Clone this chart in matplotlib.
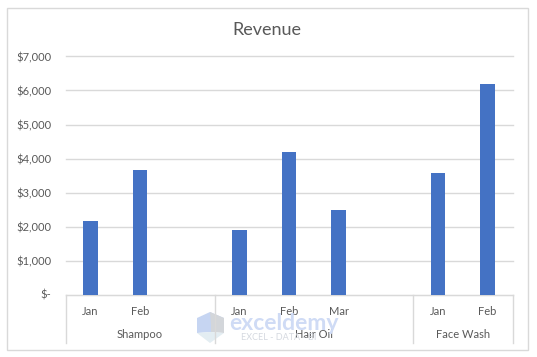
#!/usr/bin/env python3
"""Revenue by product and month, column chart with two-level category axis."""

import matplotlib
matplotlib.use("Agg")
import matplotlib.pyplot as plt
from matplotlib.patches import Polygon, Rectangle

months = ["Jan", "Feb", "", "Jan", "Feb", "Mar", "", "Jan", "Feb"]
revenue = [2150, 3650, 0, 1900, 4200, 2480, 0, 3570, 6200]
products = ["Shampoo", "Hair Oil", "Face Wash"]
product_spans = [(-0.5, 2.5), (2.5, 6.5), (6.5, 8.5)]
y_ticks = [0, 1000, 2000, 3000, 4000, 5000, 6000, 7000]

COLOR_BAR = "#4472C4"
COLOR_GRID = "#D9D9D9"
COLOR_TEXT = "#595959"

plt.rcParams["font.family"] = ["Lato", "DejaVu Sans"]

W, H = 537, 357
AX_H = 238.0
fig = plt.figure(figsize=(W / 100, H / 100), dpi=100)
ax = fig.add_axes([65.5 / W, 1 - 294.5 / H, 447 / W, AX_H / H])

fig.add_artist(Rectangle((7.5 / W, 1 - 350 / H), 520.5 / W, 342.5 / H,
                         transform=fig.transFigure, fill=False,
                         edgecolor=COLOR_GRID, linewidth=1))

ax.bar(range(len(months)), revenue, width=0.3, color=COLOR_BAR, zorder=3)
ax.set_xlim(-0.5, 8.5)
ax.set_ylim(0, 7000)
ax.set_yticks(y_ticks)
ax.set_yticklabels(["$-"] + [f"${v:,}" for v in y_ticks[1:]])
ax.set_xticks(range(len(months)))
ax.set_xticklabels(months)
ax.tick_params(axis="both", length=0, labelsize=8, labelcolor=COLOR_TEXT)
ax.tick_params(axis="x", pad=8)
ax.tick_params(axis="y", pad=10)
ax.grid(axis="y", color=COLOR_GRID, linewidth=1, zorder=0)
# top gridline sits right on the axes edge, keep it from being clipped away
for line in ax.get_ygridlines():
    line.set_clip_on(False)
for side in ["top", "left", "right"]:
    ax.spines[side].set_visible(False)
ax.spines["bottom"].set_color(COLOR_GRID)

# watermark sits under the axis labels
logo_faces = [
    ([(197, 318), (210, 312), (224, 318), (211, 325), (211, 332), (197, 333)], "#C6D5F2"),
    ([(210, 312), (224, 318), (224, 333), (211, 332), (211, 325)], "#D3D6DA"),
    ([(197, 333), (211, 332), (224, 333), (210, 343)], "#E3EDF2"),
]
for pts, col in logo_faces:
    fig.add_artist(Polygon([(x / W, 1 - y / H) for x, y in pts],
                           transform=fig.transFigure, facecolor=col,
                           edgecolor="none", zorder=0))
fig.text(229 / W, 1 - 323 / H, "exceldemy", fontsize=16.5, fontweight="bold",
         color="#CFDBF5", ha="left", va="center", zorder=0)
fig.text(241 / W, 1 - 337.5 / H, "EXCEL - DATA - BI", fontsize=6.5,
         color="#D5D9E0", ha="left", va="center", zorder=0)

# two-level category axis below the columns
tr = ax.get_xaxis_transform()
seps = sorted({e for span in product_spans for e in span})
for x in seps:
    ax.plot([x, x], [0, -48.5 / AX_H], transform=tr, color=COLOR_GRID,
            linewidth=1, clip_on=False)
for name, (a, b) in zip(products, product_spans):
    ax.text((a + b) / 2, -40 / AX_H, name, transform=tr, ha="center",
            va="center", fontsize=8, color=COLOR_TEXT, zorder=4)

ax.patch.set_alpha(0)
fig.text(267 / W, 1 - 30 / H, "Revenue", ha="center", va="center",
         fontsize=13, color=COLOR_TEXT)

fig.savefig("out.png", dpi=100)
